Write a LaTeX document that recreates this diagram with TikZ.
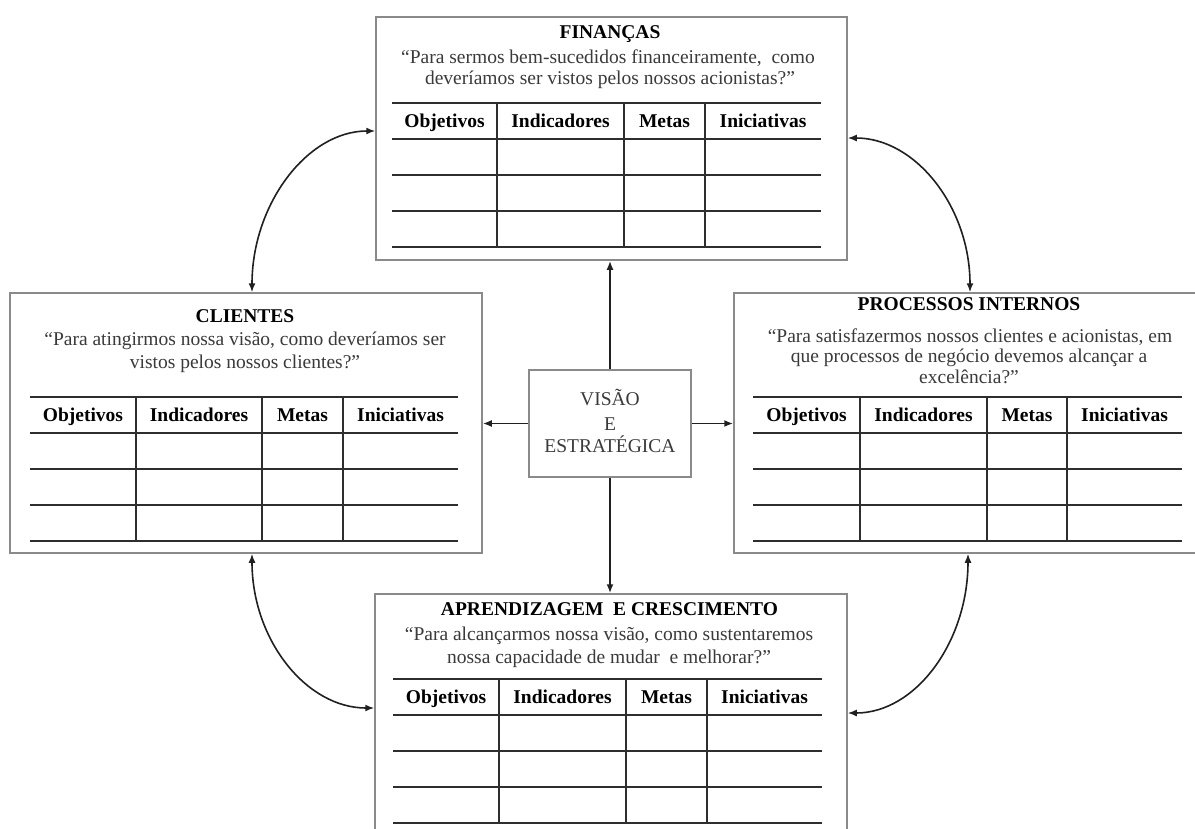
\documentclass[tikz,border=0pt]{standalone}
\usepackage{fontspec}
\setmainfont{Liberation Serif}
\usetikzlibrary{arrows.meta}

\definecolor{boxline}{HTML}{8A8A8A}
\definecolor{gridcol}{HTML}{2E2E2E}
\definecolor{quotecol}{HTML}{3A3A3A}
\definecolor{linkcol}{HTML}{202020}

\tikzset{
  panel/.style={draw=boxline, line width=1.5pt, inner sep=0pt, fill=white},
  centerbox/.style={draw=boxline, line width=1.5pt, inner sep=0pt, fill=white},
  gridline/.style={draw=gridcol, line width=2pt},
  ttl/.style={anchor=base, inner sep=0pt, font=\fontsize{19.5}{21}\selectfont\bfseries},
  qt/.style={anchor=base, inner sep=0pt, text=quotecol, font=\fontsize{19.5}{21}\selectfont},
  hdr/.style={anchor=base, inner sep=0pt, font=\fontsize{19.5}{21}\selectfont\bfseries},
  vistxt/.style={anchor=base, inner sep=0pt, text=quotecol, font=\fontsize{19.5}{21}\selectfont},
  link/.style={draw=linkcol, line width=1.8pt, -{Latex[length=9pt,width=7pt]}},
  twoway/.style={draw=linkcol, line width=1.6pt, {Latex[length=9pt,width=7pt]}-{Latex[length=9pt,width=7pt]}},
}

% Four-column table: prefix, left, right, top, three column separators
\newcommand\bscgrid[7]{%
  \foreach \k in {0,...,4}
    \draw[gridline] (#2,{#4+36*\k}) -- (#3,{#4+36*\k});
  \foreach \c in {#5,#6,#7}
    \draw[gridline] (\c,#4) -- (\c,{#4+144});
  \node[hdr] (#1-obj) at ({(#2+#5)/2},{#4+24.5}) {Objetivos};
  \node[hdr] (#1-ind) at ({(#5+#6)/2},{#4+24.5}) {Indicadores};
  \node[hdr] (#1-met) at ({(#6+#7)/2},{#4+24.5}) {Metas};
  \node[hdr] (#1-ini) at ({(#7+#3)/2},{#4+24.5}) {Iniciativas};
}

\begin{document}
\begin{tikzpicture}[x=1pt, y=-1pt]
  \path[use as bounding box, clip] (0,0) rectangle (1195,828);
  \fill[white] (0,0) rectangle (1195,828);

  % perspective panels
  \node[panel, minimum width=471pt, minimum height=243pt] (fin) at (611.5,138.5) {};
  \node[panel, minimum width=472pt, minimum height=260pt] (cli) at (246,423) {};
  \node[panel, minimum width=464pt, minimum height=260pt] (pro) at (966,423) {};
  \node[panel, minimum width=472pt, minimum height=250pt] (apr) at (611,719) {};

  % central box
  \node[centerbox, minimum width=162pt, minimum height=107pt] (vis) at (610,423.5) {};
  \node[vistxt] (vis1) at (610,405) {VISÃO};
  \node[vistxt] (vis2) at (610,430) {E};
  \node[vistxt] (vis3) at (610,452.5) {ESTRATÉGICA};

  % Finanças
  \node[ttl] (fin-t) at (610,38) {FINANÇAS};
  \node[qt] (fin-q1) at (608,63) {“Para sermos bem-sucedidos financeiramente,\ \ como};
  \node[qt] (fin-q2) at (610,84) {deveríamos ser vistos pelos nossos acionistas?”};
  \bscgrid{fin}{392}{821}{102.5}{497}{624}{705}

  % Clientes
  \node[ttl] (cli-t) at (245,322) {CLIENTES};
  \node[qt] (cli-q1) at (245,345) {“Para atingirmos nossa visão, como deveríamos ser};
  \node[qt] (cli-q2) at (245,368) {vistos pelos nossos clientes?”};
  \bscgrid{cli}{30}{458}{397}{136}{262}{343}

  % Processos internos
  \node[ttl] (pro-t) at (969,310) {PROCESSOS INTERNOS};
  \node[qt] (pro-q1) at (970,342) {“Para satisfazermos nossos clientes e acionistas, em};
  \node[qt] (pro-q2) at (969,362.5) {que processos de negócio devemos alcançar a};
  \node[qt] (pro-q3) at (969,383) {excelência?”};
  \bscgrid{pro}{753}{1182}{397}{860}{987}{1067}

  % Aprendizagem e crescimento
  \node[ttl] (apr-t) at (609.5,615) {APRENDIZAGEM\ \ E CRESCIMENTO};
  \node[qt] (apr-q1) at (609,640) {“Para alcançarmos nossa visão, como sustentaremos};
  \node[qt] (apr-q2) at (609,663) {nossa capacidade de mudar\ \ e melhorar?”};
  \bscgrid{apr}{393}{822}{679}{499}{626}{707}

  % links from the centre
  \draw[link] (vis.north) -- (vis.north |- fin.south);
  \draw[link] (vis.south) -- (vis.south |- apr.north);
  \draw[link] (vis.west) -- (vis.west -| cli.east);
  \draw[link] (vis.east) -- (vis.east -| pro.west);

  % cycle between the perspectives
  \draw[twoway] ([xshift=6pt]cli.north) .. controls +(0,-88) and +(-68,0) .. ([yshift=7.5pt]fin.west);
  \draw[twoway] ([yshift=0.5pt]fin.east) .. controls +(68,0) and +(0,-85) .. ([xshift=4pt]pro.north);
  \draw[twoway] ([xshift=6pt]cli.south) .. controls +(0,86) and +(-68,0) .. ([yshift=11pt]apr.west);
  \draw[twoway] ([xshift=2pt]pro.south) .. controls +(0,88) and +(68,0) .. ([yshift=6pt]apr.east);
\end{tikzpicture}
\end{document}
